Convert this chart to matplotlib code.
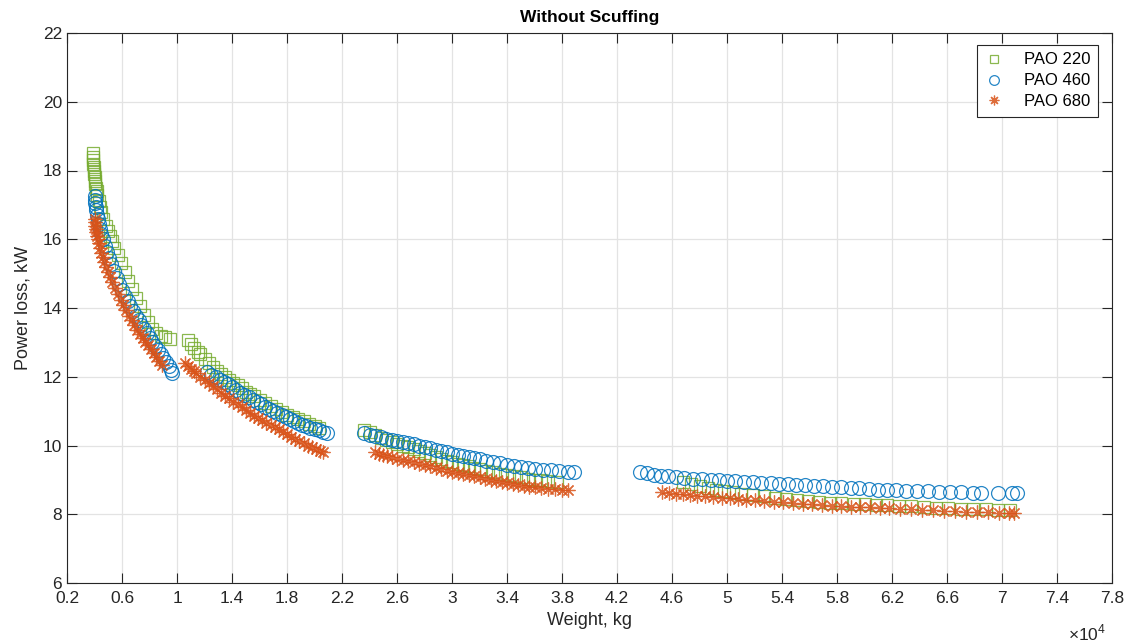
import numpy as np
import matplotlib
matplotlib.use("Agg")
import matplotlib.pyplot as plt
from matplotlib.ticker import FuncFormatter

plt.rcParams['font.family'] = ['Liberation Sans', 'DejaVu Sans']
plt.rcParams['mathtext.fontset'] = 'custom'
plt.rcParams['mathtext.rm'] = 'Liberation Sans'

# Weight in units of 1e4 kg, power loss in kW
# ---------------- PAO 220 ----------------
w220_a = [0.39, 0.39, 0.39, 0.392, 0.394, 0.396, 0.398, 0.40, 0.403, 0.406, 0.41, 0.415, 0.42, 0.43, 0.44, 0.45,
          0.465, 0.48, 0.495, 0.51, 0.525, 0.545, 0.57, 0.595, 0.62, 0.645, 0.67, 0.70, 0.73, 0.76, 0.79, 0.82,
          0.85, 0.88, 0.91, 0.95]
p220_a = [18.5, 18.4, 18.3, 18.2, 18.1, 18.0, 17.9, 17.8, 17.7, 17.6, 17.5, 17.4, 17.3, 17.1, 16.95, 16.8,
          16.6, 16.4, 16.25, 16.1, 15.95, 15.75, 15.55, 15.3, 15.05, 14.8, 14.55, 14.3, 14.05, 13.8, 13.6, 13.4,
          13.28, 13.2, 13.15, 13.1]
w220_b = [1.08, 1.10, 1.12, 1.15, 1.17, 1.20, 1.23, 1.26, 1.29, 1.32, 1.35, 1.38, 1.41, 1.44, 1.47, 1.50,
          1.53, 1.56, 1.60, 1.64, 1.68, 1.72, 1.76, 1.80, 1.84, 1.88, 1.92, 1.96, 2.00, 2.03]
p220_b = [13.07, 12.95, 12.85, 12.72, 12.65, 12.52, 12.4, 12.28, 12.18, 12.07, 11.98, 11.9, 11.82, 11.75, 11.66, 11.57,
          11.5, 11.43, 11.33, 11.23, 11.14, 11.06, 10.98, 10.9, 10.83, 10.76, 10.7, 10.63, 10.56, 10.5]
w220_c = [2.36, 2.40, 2.44, 2.48, 2.52, 2.56, 2.60, 2.64, 2.68, 2.72, 2.76, 2.80, 2.84, 2.88, 2.92, 2.96,
          3.00, 3.04, 3.08, 3.12, 3.16, 3.20, 3.25, 3.30, 3.35, 3.40, 3.45, 3.50, 3.55, 3.60, 3.65, 3.70, 3.76]
p220_c = [10.45, 10.38, 10.3, 10.23, 10.17, 10.11, 10.05, 10.0, 9.95, 9.9, 9.85, 9.79, 9.73, 9.67, 9.61, 9.56,
          9.51, 9.47, 9.43, 9.39, 9.35, 9.31, 9.27, 9.22, 9.18, 9.14, 9.1, 9.07, 9.04, 9.01, 8.99, 8.96, 8.94]
w220_d = [4.68, 4.74, 4.80, 4.86, 4.92, 4.98, 5.04, 5.10, 5.19, 5.27, 5.35, 5.43, 5.51, 5.59, 5.67, 5.75,
          5.83, 5.92, 6.00, 6.08, 6.16, 6.25, 6.34, 6.43, 6.52, 6.61, 6.70, 6.79, 6.88, 6.97, 7.06]
p220_d = [8.94, 8.88, 8.82, 8.77, 8.72, 8.68, 8.64, 8.6, 8.56, 8.52, 8.48, 8.45, 8.42, 8.39, 8.36, 8.34,
          8.32, 8.3, 8.29, 8.28, 8.27, 8.25, 8.23, 8.21, 8.19, 8.17, 8.16, 8.15, 8.14, 8.13, 8.12]

# ---------------- PAO 460 ----------------
w460_a = [0.40, 0.402, 0.405, 0.408, 0.412, 0.417, 0.423, 0.43, 0.44, 0.45, 0.46, 0.475, 0.49, 0.505, 0.52, 0.54,
          0.56, 0.58, 0.60, 0.62, 0.64, 0.66, 0.68, 0.70, 0.72, 0.74, 0.76, 0.78, 0.80, 0.82, 0.84, 0.86,
          0.88, 0.90, 0.92, 0.94, 0.955, 0.965]
p460_a = [17.25, 17.15, 17.05, 16.95, 16.85, 16.72, 16.6, 16.45, 16.3, 16.15, 16.0, 15.8, 15.62, 15.45, 15.28, 15.08,
          14.88, 14.7, 14.52, 14.35, 14.2, 14.05, 13.92, 13.78, 13.64, 13.5, 13.38, 13.26, 13.14, 13.02, 12.9, 12.78,
          12.66, 12.54, 12.42, 12.3, 12.2, 12.12]
w460_b = [1.22, 1.25, 1.28, 1.31, 1.34, 1.37, 1.40, 1.43, 1.46, 1.49, 1.52, 1.55, 1.58, 1.61, 1.64, 1.67,
          1.70, 1.73, 1.76, 1.79, 1.82, 1.85, 1.88, 1.91, 1.94, 1.97, 2.00, 2.03, 2.06, 2.09]
p460_b = [12.14, 12.05, 11.98, 11.9, 11.84, 11.78, 11.7, 11.62, 11.54, 11.47, 11.4, 11.32, 11.26, 11.2, 11.13, 11.07,
          11.0, 10.95, 10.89, 10.83, 10.77, 10.71, 10.66, 10.61, 10.56, 10.52, 10.48, 10.44, 10.4, 10.36]
w460_c = [2.36, 2.40, 2.44, 2.48, 2.52, 2.56, 2.60, 2.64, 2.68, 2.72, 2.76, 2.80, 2.84, 2.88, 2.92, 2.96,
          3.00, 3.04, 3.08, 3.12, 3.16, 3.20, 3.25, 3.30, 3.35, 3.40, 3.45, 3.50, 3.55, 3.60, 3.66, 3.72,
          3.78, 3.84, 3.89]
p460_c = [10.36, 10.32, 10.28, 10.24, 10.2, 10.16, 10.13, 10.1, 10.07, 10.03, 10.0, 9.96, 9.92, 9.88, 9.84, 9.8,
          9.76, 9.72, 9.69, 9.66, 9.63, 9.6, 9.56, 9.52, 9.48, 9.44, 9.41, 9.38, 9.35, 9.33, 9.3, 9.28,
          9.25, 9.24, 9.23]
w460_d = [4.37, 4.42, 4.47, 4.52, 4.57, 4.63, 4.69, 4.75, 4.82, 4.88, 4.94, 5.00, 5.06, 5.12, 5.19, 5.25,
          5.32, 5.38, 5.44, 5.50, 5.57, 5.63, 5.70, 5.76, 5.83, 5.90, 5.96, 6.03, 6.10, 6.16, 6.23, 6.30,
          6.38, 6.46, 6.54, 6.62, 6.70, 6.79, 6.85, 6.97, 7.07, 7.11]
p460_d = [9.23, 9.19, 9.15, 9.12, 9.1, 9.08, 9.06, 9.04, 9.02, 9.0, 8.99, 8.98, 8.96, 8.95, 8.94, 8.92,
          8.9, 8.88, 8.87, 8.85, 8.84, 8.82, 8.81, 8.8, 8.78, 8.77, 8.76, 8.74, 8.72, 8.71, 8.7, 8.69,
          8.68, 8.67, 8.66, 8.65, 8.64, 8.63, 8.63, 8.62, 8.62, 8.62]

# ---------------- PAO 680 ----------------
w680_a = [0.40, 0.402, 0.405, 0.408, 0.412, 0.417, 0.423, 0.43, 0.44, 0.45, 0.46, 0.47, 0.485, 0.50, 0.515, 0.53,
          0.55, 0.57, 0.59, 0.61, 0.63, 0.65, 0.67, 0.69, 0.71, 0.73, 0.75, 0.77, 0.79, 0.81, 0.83, 0.85,
          0.87, 0.89]
p680_a = [16.6, 16.5, 16.4, 16.3, 16.2, 16.1, 16.0, 15.88, 15.74, 15.6, 15.47, 15.35, 15.2, 15.05, 14.9, 14.76,
          14.58, 14.4, 14.24, 14.08, 13.93, 13.78, 13.64, 13.5, 13.37, 13.25, 13.13, 13.02, 12.91, 12.8, 12.68, 12.57,
          12.45, 12.35]
w680_b = [1.06, 1.08, 1.10, 1.12, 1.14, 1.17, 1.20, 1.23, 1.26, 1.29, 1.32, 1.35, 1.38, 1.41, 1.44, 1.47,
          1.50, 1.53, 1.56, 1.59, 1.62, 1.65, 1.68, 1.71, 1.74, 1.77, 1.80, 1.83, 1.86, 1.89, 1.92, 1.95,
          1.98, 2.01, 2.04, 2.06]
p680_b = [12.4, 12.32, 12.24, 12.17, 12.1, 12.0, 11.92, 11.82, 11.73, 11.63, 11.54, 11.45, 11.37, 11.28, 11.2, 11.11,
          11.03, 10.95, 10.87, 10.8, 10.73, 10.66, 10.59, 10.53, 10.47, 10.4, 10.33, 10.26, 10.19, 10.13, 10.06, 10.0,
          9.95, 9.9, 9.85, 9.81]
w680_c = [2.44, 2.47, 2.50, 2.53, 2.56, 2.60, 2.64, 2.68, 2.72, 2.76, 2.80, 2.84, 2.88, 2.92, 2.96, 3.00,
          3.04, 3.08, 3.12, 3.16, 3.20, 3.24, 3.28, 3.32, 3.36, 3.40, 3.44, 3.48, 3.52, 3.56, 3.60, 3.65,
          3.70, 3.75, 3.80, 3.84]
p680_c = [9.81, 9.76, 9.72, 9.69, 9.66, 9.62, 9.58, 9.55, 9.51, 9.47, 9.43, 9.39, 9.35, 9.31, 9.27, 9.24,
          9.2, 9.16, 9.13, 9.1, 9.07, 9.04, 9.01, 8.98, 8.95, 8.92, 8.89, 8.86, 8.83, 8.8, 8.78, 8.76,
          8.74, 8.73, 8.72, 8.71]
w680_d = [4.53, 4.58, 4.63, 4.68, 4.73, 4.78, 4.84, 4.90, 4.96, 5.02, 5.08, 5.14, 5.20, 5.27, 5.34, 5.41,
          5.48, 5.55, 5.62, 5.69, 5.76, 5.83, 5.90, 5.97, 6.04, 6.11, 6.18, 6.26, 6.34, 6.42, 6.50, 6.58,
          6.66, 6.74, 6.82, 6.90, 6.98, 7.05, 7.09]
p680_d = [8.65, 8.62, 8.6, 8.58, 8.56, 8.54, 8.52, 8.5, 8.48, 8.46, 8.44, 8.42, 8.41, 8.39, 8.37, 8.35,
          8.33, 8.31, 8.29, 8.27, 8.25, 8.24, 8.22, 8.21, 8.2, 8.19, 8.18, 8.16, 8.14, 8.13, 8.11, 8.1,
          8.09, 8.08, 8.07, 8.06, 8.05, 8.04, 8.04]

labels = ["PAO 220", "PAO 460", "PAO 680"]
x_ticks = [0.2, 0.6, 1, 1.4, 1.8, 2.2, 2.6, 3, 3.4, 3.8, 4.2, 4.6, 5, 5.4, 5.8, 6.2, 6.6, 7, 7.4, 7.8]
y_ticks = [6, 8, 10, 12, 14, 16, 18, 20, 22]

c_green = '#77AC30'
c_blue = '#0072BD'
c_orange = '#D95319'
txt = '#262626'

fig = plt.figure(figsize=(11.28, 6.43), dpi=100)
ax = fig.add_axes([67/1128, (643-583)/643, (1112-67)/1128, 550/643])

w220 = np.concatenate([w220_a, w220_b, w220_c, w220_d])
p220 = np.concatenate([p220_a, p220_b, p220_c, p220_d])
w460 = np.concatenate([w460_a, w460_b, w460_c, w460_d])
p460 = np.concatenate([p460_a, p460_b, p460_c, p460_d])
w680 = np.concatenate([w680_a, w680_b, w680_c, w680_d])
p680 = np.concatenate([p680_a, p680_b, p680_c, p680_d])

ax.plot(w220, p220, linestyle='none', marker='s', markersize=8, markerfacecolor='none',
        markeredgecolor=c_green, markeredgewidth=0.9, alpha=0.85, label=labels[0])
ax.plot(w460, p460, linestyle='none', marker='o', markersize=10, markerfacecolor='none',
        markeredgecolor=c_blue, markeredgewidth=0.9, alpha=0.85, label=labels[1])
ax.plot(w680, p680, linestyle='none', marker=(8, 2, 0), markersize=10, markerfacecolor='none',
        markeredgecolor=c_orange, markeredgewidth=0.9, alpha=0.85, label=labels[2])

ax.set_xlim(0.2, 7.8)
ax.set_ylim(6, 22)
ax.set_xticks(x_ticks)
ax.set_yticks(y_ticks)
ax.xaxis.set_major_formatter(FuncFormatter(lambda v, p: '%g' % v))
ax.grid(True, color='#e3e3e3', linewidth=0.9)
ax.set_axisbelow(True)
ax.tick_params(axis='both', direction='in', length=7, width=0.8, colors=txt, labelsize=12.5,
               top=True, right=True)
ax.tick_params(axis='x', pad=6)
for s in ax.spines.values():
    s.set_color(txt)
    s.set_linewidth(0.8)

ax.set_title('Without Scuffing', fontsize=12.5, fontweight='bold', color='black', pad=8)
ax.set_xlabel('Weight, kg', fontsize=13, color=txt, labelpad=4)
ax.set_ylabel('Power loss, kW', fontsize=13, color=txt, labelpad=8)
fig.text(1087/1128, 1 - 633/643, r'$\times10^{4}$', fontsize=12.5, color=txt, ha='center', va='center')

leg = ax.legend(loc='upper right', bbox_to_anchor=(1098/1128, (643-45)/643),
                bbox_transform=fig.transFigure, borderaxespad=0, fancybox=False,
                framealpha=1, edgecolor=txt, fontsize=12, markerscale=0.7,
                handlelength=1.2, handletextpad=1.2, borderpad=0.45, labelspacing=0.35)
leg.get_frame().set_linewidth(0.8)

fig.savefig('out.png', dpi=100)
